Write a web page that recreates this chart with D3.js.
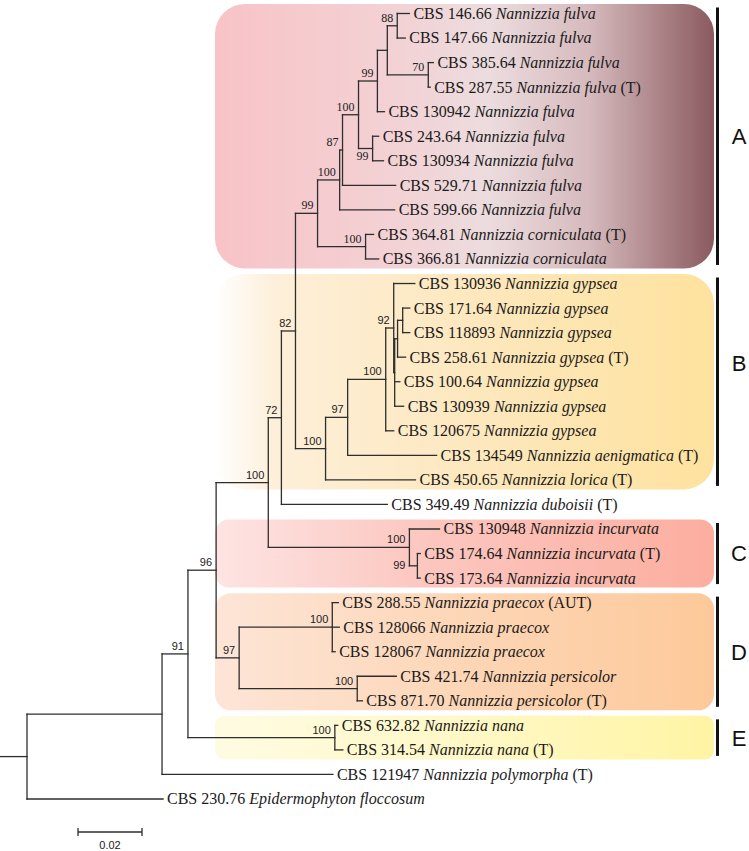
<!DOCTYPE html>
<html><head><meta charset="utf-8">
<script src="https://cdn.jsdelivr.net/npm/d3@7"></script>
<style>body{margin:0;background:#fff}</style>
</head><body>
<svg id="chart" width="749" height="851"></svg>
<script>
// ---------- DATA ----------
// [node, parent, branch length (subst./site), bootstrap]
const edges = [
  ["root", null, 0, null],
  ["n1", "root", 0.0422, null],
  ["n2", "n1", 0.0081, 91],
  ["n3", "n2", 0.0088, 96],
  ["n4", "n3", 0.0163, 100],
  ["n5", "n4", 0.0041, 72],
  ["n6", "n5", 0.0044, 82],
  ["nA", "n6", 0.0069, 99],
  ["a1", "nA", 0.0069, 100],
  ["a2", "a1", 0.0009, 87],
  ["a3", "a2", 0.0050, 100],
  ["a4", "a3", 0.0059, 99],
  ["a5", "a4", 0.0031, null],
  ["a6", "a5", 0.0031, 88],
  ["CBS 146.66", "a6", 0.0038, null],
  ["CBS 147.66", "a6", 0.0025, null],
  ["a7", "a5", 0.0128, 70],
  ["CBS 385.64", "a7", 0.0016, null],
  ["CBS 287.55", "a7", 0.0006, null],
  ["CBS 130942", "a4", 0.0022, null],
  ["a8", "a3", 0.0044, 99],
  ["CBS 243.64", "a8", 0.0019, null],
  ["CBS 130934", "a8", 0.0034, null],
  ["CBS 529.71", "a2", 0.0166, null],
  ["CBS 599.66", "a1", 0.0172, null],
  ["a9", "nA", 0.0150, 100],
  ["CBS 364.81", "a9", 0.0025, null],
  ["CBS 366.81", "a9", 0.0041, null],
  ["nB", "n6", 0.0094, 100],
  ["b1", "nB", 0.0069, 97],
  ["b2", "b1", 0.0119, 100],
  ["b3", "b2", 0.0025, 92],
  ["CBS 130936", "b3", 0.0066, null],
  ["b4", "b3", 0.0003, null],
  ["b5", "b4", 0.0009, null],
  ["b6", "b5", 0.0016, null],
  ["CBS 171.64", "b6", 0.0022, null],
  ["CBS 118893", "b6", 0.0022, null],
  ["CBS 258.61", "b5", 0.0025, null],
  ["CBS 100.64", "b4", 0.0016, null],
  ["CBS 130939", "b4", 0.0028, null],
  ["CBS 120675", "b2", 0.0025, null],
  ["CBS 134549", "b1", 0.0278, null],
  ["CBS 450.65", "nB", 0.0281, null],
  ["CBS 349.49", "n5", 0.0331, null],
  ["nC", "n4", 0.0441, 100],
  ["CBS 130948", "nC", 0.0094, null],
  ["c1", "nC", 0.0025, 99],
  ["CBS 174.64", "c1", 0.0009, null],
  ["CBS 173.64", "c1", 0.0009, null],
  ["nD", "n3", 0.0072, 97],
  ["d1", "nD", 0.0291, 100],
  ["CBS 288.55", "d1", 0.0019, null],
  ["CBS 128066", "d1", 0.0022, null],
  ["CBS 128067", "d1", 0.0009, null],
  ["d2", "nD", 0.0369, 100],
  ["CBS 421.74", "d2", 0.0122, null],
  ["CBS 871.70", "d2", 0.0016, null],
  ["nE", "n2", 0.0459, 100],
  ["CBS 632.82", "nE", 0.0009, null],
  ["CBS 314.54", "nE", 0.0025, null],
  ["CBS 121947", "n1", 0.0534, null],
  ["CBS 230.76", "root", 0.0425, null]
];

const strains = ["CBS 146.66","CBS 147.66","CBS 385.64","CBS 287.55","CBS 130942","CBS 243.64",
  "CBS 130934","CBS 529.71","CBS 599.66","CBS 364.81","CBS 366.81","CBS 130936","CBS 171.64",
  "CBS 118893","CBS 258.61","CBS 100.64","CBS 130939","CBS 120675","CBS 134549","CBS 450.65",
  "CBS 349.49","CBS 130948","CBS 174.64","CBS 173.64","CBS 288.55","CBS 128066","CBS 128067",
  "CBS 421.74","CBS 871.70","CBS 632.82","CBS 314.54","CBS 121947","CBS 230.76"];
const species = ["Nannizzia fulva","Nannizzia fulva","Nannizzia fulva","Nannizzia fulva","Nannizzia fulva",
  "Nannizzia fulva","Nannizzia fulva","Nannizzia fulva","Nannizzia fulva","Nannizzia corniculata",
  "Nannizzia corniculata","Nannizzia gypsea","Nannizzia gypsea","Nannizzia gypsea","Nannizzia gypsea",
  "Nannizzia gypsea","Nannizzia gypsea","Nannizzia gypsea","Nannizzia aenigmatica","Nannizzia lorica",
  "Nannizzia duboisii","Nannizzia incurvata","Nannizzia incurvata","Nannizzia incurvata",
  "Nannizzia praecox","Nannizzia praecox","Nannizzia praecox","Nannizzia persicolor","Nannizzia persicolor",
  "Nannizzia nana","Nannizzia nana","Nannizzia polymorpha","Epidermophyton floccosum"];
const typeTags = ["","","","(T)","","","","","","(T)","","","","","(T)","","","","(T)","(T)",
  "(T)","","(T)","","(AUT)","","","","(T)","","(T)","(T)",""];

// clade letter, first leaf, last leaf
const clades = [
  ["A", "CBS 146.66", "CBS 366.81"],
  ["B", "CBS 130936", "CBS 450.65"],
  ["C", "CBS 130948", "CBS 173.64"],
  ["D", "CBS 288.55", "CBS 871.70"],
  ["E", "CBS 632.82", "CBS 314.54"]
];
const scaleBarValue = 0.02;
const scaleBarLabel = "0.02";

// ---------- STYLE ----------
const cladeStyle = {
  A: {rx: 30, stops: [[0,"#f8c3c7"],[0.35,"#f3d1d4"],[0.55,"#ecdcde"],[0.75,"#d6babd"],[1,"#8a5a5f"]], shift: 0},
  B: {rx: 30, stops: [[0,"#ffffff"],[0.12,"#fdefd9"],[0.5,"#fde8bf"],[1,"#fee29e"]], shift: -19},
  C: {rx: 14, stops: [[0,"#fde4e3"],[0.4,"#fcc8c1"],[1,"#fcae9f"]], shift: 0},
  D: {rx: 16, stops: [[0,"#fde5d7"],[0.5,"#fdd6b6"],[1,"#fdc99a"]], shift: 0},
  E: {rx: 9,  stops: [[0,"#fffbe2"],[0.5,"#fff8c6"],[1,"#fff4a4"]], shift: 0}
};
const boxLeft = 215, boxRight = 714, barX = 717.5;
const lineColor = "#2e2e2e";
const serif = "'Liberation Serif','Times New Roman',serif";
const sans = "'Liberation Sans',Arial,sans-serif";

// ---------- LAYOUT ----------
const svg = d3.select("#chart");
const root = d3.stratify().id(d => d[0]).parentId(d => d[1])(edges);
root.eachBefore(n => { n.dist = n.parent ? n.parent.dist + n.data[2] : 0; });
const leaves = root.leaves();
const x = d3.scaleLinear().domain([0, scaleBarValue]).range([27, 91]);
const y = d3.scaleLinear().domain([0, leaves.length - 1]).range([13.5, 799]);
const leafIndex = new Map(leaves.map((l, i) => [l.id, i]));
leaves.forEach((l, i) => { l.py = y(i); });
root.eachAfter(n => {
  n.px = x(n.dist);
  if (n.children) n.py = (n.children[0].py + n.children[n.children.length - 1].py) / 2;
});

// ---------- CLADE BOXES ----------
const defs = svg.append("defs");
clades.forEach(([name, first, last]) => {
  const st = cladeStyle[name];
  const g = defs.append("linearGradient").attr("id", "grad" + name)
    .attr("x1", 0).attr("x2", 1).attr("y1", 0).attr("y2", 0);
  st.stops.forEach(([o, c]) => g.append("stop").attr("offset", o).attr("stop-color", c));
  const y0 = y(leafIndex.get(first)), y1 = y(leafIndex.get(last));
  svg.append("rect")
    .attr("x", boxLeft).attr("y", y0 - 9.5)
    .attr("width", boxRight - boxLeft).attr("height", y1 - y0 + 19)
    .attr("rx", st.rx).attr("ry", st.rx)
    .attr("fill", `url(#grad${name})`);
  svg.append("rect")
    .attr("x", barX - 1.5).attr("y", y0 - 6)
    .attr("width", 3).attr("height", y1 - y0 + 12)
    .attr("fill", "#111");
  svg.append("text")
    .attr("x", 739).attr("y", (y0 + y1) / 2 + st.shift)
    .attr("dy", "0.36em").attr("text-anchor", "middle")
    .attr("font-family", sans).attr("font-size", 22).attr("fill", "#111")
    .text(name);
});

// ---------- BRANCHES ----------
const gl = svg.append("g").attr("fill", "none").attr("stroke", lineColor)
  .attr("stroke-width", 1.3).attr("stroke-linecap", "square");
root.descendants().forEach(n => {
  if (n.parent) gl.append("path").attr("d", `M${n.parent.px},${n.py}H${n.px}`);
  if (n.children) {
    gl.append("path").attr("d",
      `M${n.px},${n.children[0].py}V${n.children[n.children.length - 1].py}`);
  }
});
// root stub
gl.append("path").attr("d", `M0,${root.py}H${root.px}`);

// ---------- LEAF LABELS ----------
leaves.forEach(l => {
  const i = strains.indexOf(l.id);
  const t = svg.append("text")
    .attr("x", l.px + 4).attr("y", l.py).attr("dy", "0.34em")
    .attr("font-family", serif).attr("font-size", 16).attr("fill", "#1a1a1a");
  t.append("tspan").text(strains[i] + " ");
  t.append("tspan").attr("font-style", "italic").text(species[i]);
  if (typeTags[i]) t.append("tspan").text(" " + typeTags[i]);
});

// ---------- BOOTSTRAP ----------
const cladeA = root.find(n => n.id === "nA");
const inA = new Set(cladeA.descendants().map(d => d.id));
root.descendants().forEach(n => {
  const b = n.data[3];
  if (b == null) return;
  const isSerif = inA.has(n.id);
  let tx = n.px - 4, ty = n.py - 4;
  if (n.id === "a8") { ty = n.py + 11; }
  if (n.id === "c1") { tx = n.parent.px - 4; ty = n.py + 3; }
  svg.append("text").attr("x", tx).attr("y", ty)
    .attr("text-anchor", "end")
    .attr("font-family", isSerif ? serif : sans)
    .attr("font-size", isSerif ? 12 : 11)
    .attr("fill", "#222")
    .text(b);
});

// ---------- SCALE BAR ----------
const sbx0 = 78, sby = 832, sbLen = x(scaleBarValue) - x(0);
svg.append("path")
  .attr("d", `M${sbx0},${sby}H${sbx0 + sbLen}M${sbx0},${sby - 4}V${sby + 4}M${sbx0 + sbLen},${sby - 4}V${sby + 4}`)
  .attr("stroke", lineColor).attr("stroke-width", 1.3).attr("fill", "none");
svg.append("text").attr("x", sbx0 + sbLen / 2).attr("y", 849)
  .attr("text-anchor", "middle").attr("font-family", sans).attr("font-size", 11)
  .attr("fill", "#222").text(scaleBarLabel);
</script>
</body></html>
